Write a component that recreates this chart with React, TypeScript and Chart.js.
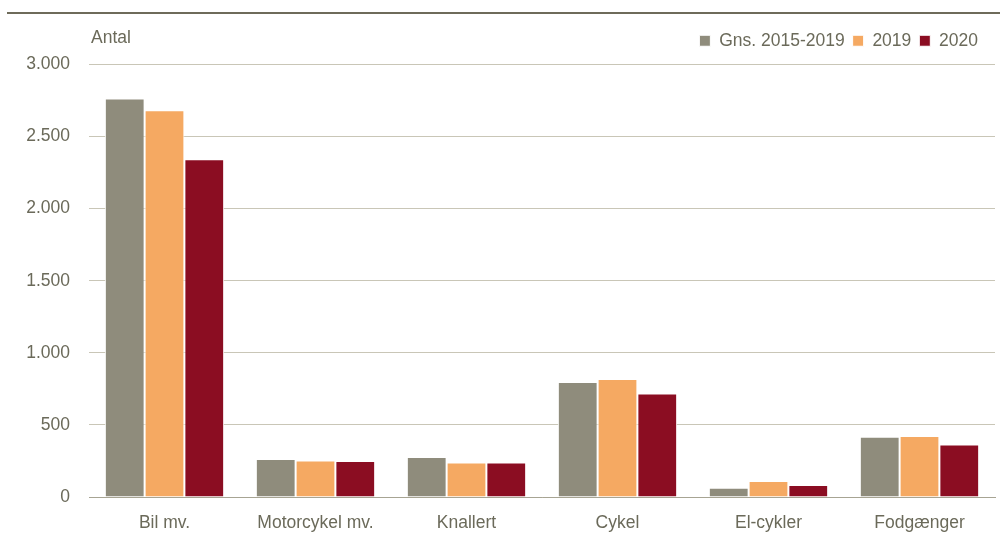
import React, { useEffect, useRef } from "react";
import { Chart, registerables } from "chart.js";

Chart.register(...registerables);

const categories = ["Bil mv.", "Motorcykel mv.", "Knallert", "Cykel", "El-cykler", "Fodgænger"];
const seriesNames = ["Gns. 2015-2019", "2019", "2020"];
const avg20152019 = [2765, 263, 277, 797, 65, 418];
const values2019 = [2682, 253, 240, 818, 111, 423];
const values2020 = [2342, 250, 240, 718, 83, 365];
const yTicks = [0, 500, 1000, 1500, 2000, 2500, 3000];
const colors = ["#8f8c7c", "#f5a962", "#8b0d22"];
const textColor = "#6b6a5a";
const fontFamily = "'Liberation Sans', Arial, sans-serif";
const fontSize = 17.5;

const decorPlugin = {
  id: "decor",
  afterLayout(chart: any) {
    if (chart.legend) {
      chart.legend.left -= 9;
      chart.legend.right -= 9;
      chart.legend.top -= 5;
      chart.legend.bottom -= 5;
    }
  },
  beforeDraw(chart: any) {
    const ctx = chart.ctx;
    ctx.save();
    ctx.fillStyle = "#6e6b5a";
    ctx.fillRect(7, 12, 993, 2);
    ctx.fillStyle = textColor;
    ctx.font = `${fontSize}px ${fontFamily}`;
    ctx.textBaseline = "middle";
    ctx.textAlign = "left";
    ctx.fillText("Antal", 91, 38);
    ctx.restore();
  },
};

export default function App() {
  const ref = useRef<HTMLCanvasElement | null>(null);
  useEffect(() => {
    document.body.style.margin = "0";
    const data = [avg20152019, values2019, values2020];
    const chart = new Chart(ref.current as HTMLCanvasElement, {
      type: "bar",
      data: {
        labels: categories,
        datasets: seriesNames.map((name, i) => ({
          label: name,
          data: data[i],
          backgroundColor: colors[i],
          borderColor: "#ffffff",
          borderWidth: 1,
          categoryPercentage: 0.79,
          barPercentage: 1,
        })),
      },
      options: {
        animation: false,
        responsive: false,
        maintainAspectRatio: false,
        layout: { padding: { left: 0, right: 5, top: 29, bottom: 0 } },
        plugins: {
          legend: {
            position: "top",
            align: "end",
            labels: {
              boxWidth: 11,
              boxHeight: 11,
              color: textColor,
              font: { family: fontFamily, size: fontSize },
              padding: 8,
            },
          },
          tooltip: { enabled: false },
        },
        scales: {
          x: {
            grid: { display: false, drawTicks: false },
            border: { display: true, color: "#a7a493", width: 1 },
            ticks: { color: textColor, font: { family: fontFamily, size: fontSize }, padding: 16 },
            afterFit(scale: any) {
              scale.height = 39;
            },
          },
          y: {
            min: 0,
            max: 3000,
            afterBuildTicks(scale: any) {
              scale.ticks = yTicks.map((v) => ({ value: v }));
            },
            grid: { color: "#c9c6b7", lineWidth: 1, drawTicks: false },
            border: { display: false },
            ticks: {
              color: textColor,
              font: { family: fontFamily, size: fontSize },
              padding: 19,
              callback: (v: any) => Number(v).toLocaleString("da-DK"),
            },
            afterFit(scale: any) {
              scale.width = 89;
            },
          },
        },
      },
      plugins: [decorPlugin],
    });
    return () => chart.destroy();
  }, []);
  return (
    <div style={{ position: "relative", width: 1000, height: 536 }}>
      <canvas ref={ref} width={1000} height={536} style={{ display: "block" }} />
    </div>
  );
}
